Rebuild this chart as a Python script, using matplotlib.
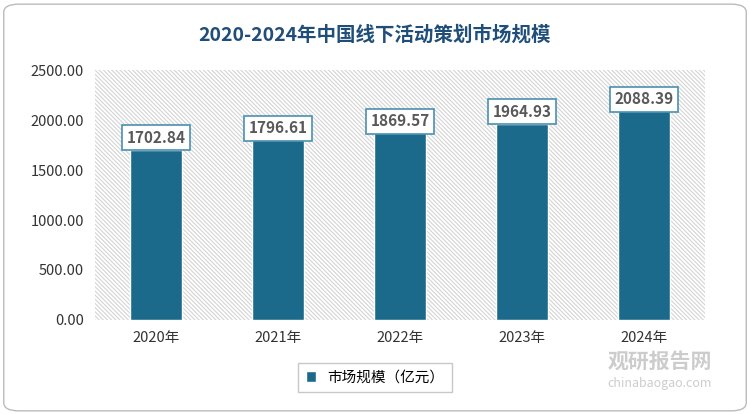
import matplotlib.pyplot as plt
from matplotlib.patches import FancyBboxPatch
from matplotlib import font_manager
import numpy as np

names = [f.name for f in font_manager.fontManager.ttflist if 'CJK' in f.name]
plt.rcParams['font.family'] = (names[:1] if names else []) + ['Noto Sans CJK SC', 'DejaVu Sans']
plt.rcParams['hatch.color'] = '#d4d4d4'
plt.rcParams['hatch.linewidth'] = 0.8

years = ['2020年', '2021年', '2022年', '2023年', '2024年']
values = [1702.84, 1796.61, 1869.57, 1964.93, 2088.39]
yticks = [0, 500, 1000, 1500, 2000, 2500]

bar_color = '#1b6a8c'

fig = plt.figure(figsize=(7.5, 4.15), dpi=100)
border = FancyBboxPatch((0.005, 0.01), 0.99, 0.98, boxstyle='round,pad=0,rounding_size=0.02',
                        transform=fig.transFigure, fc='white', ec='#bbbbbb', lw=1, zorder=-5)
fig.patches.append(border)
ax = fig.add_axes([0.127, 0.229, 0.813, 0.602])
ax.patch.set_alpha(0)

# 斜线背景
ax.add_patch(plt.Rectangle((0, 0), 1, 1, transform=ax.transAxes, fc='white',
                           ec='#d4d4d4', hatch='\\' * 8, lw=0, zorder=0))

x = np.arange(len(years))
bars = ax.bar(x, values, width=0.43, color=bar_color, edgecolor='white', lw=1, zorder=2)
for xi, v in zip(x, values):
    ax.text(xi, v + 120, '%.2f' % v, ha='center', va='center', fontsize=11, fontweight='bold',
            color='#595959', zorder=3,
            bbox=dict(boxstyle='square,pad=0.3', fc='white', ec='#4a90b0', lw=1.2))

ax.set_xlim(-0.5, len(years) - 0.5)
ax.set_ylim(0, 2500)
ax.set_yticks(yticks)
ax.set_yticklabels(['%.2f' % t for t in yticks], fontsize=10.5, color='#333333')
ax.set_xticks(x)
ax.set_xticklabels(years, fontsize=10.5, color='#333333')
ax.tick_params(length=0, pad=8)
for s in ax.spines.values():
    s.set_visible(False)

fig.text(0.5, 0.915, '2020-2024年中国线下活动策划市场规模', ha='center', va='center',
         fontsize=14, fontweight='bold', color='#1f4e79')

leg = fig.legend([bars], ['市场规模（亿元）'], loc='center', bbox_to_anchor=(0.5, 0.09),
                 frameon=True, fontsize=10.5, handlelength=0.7, handleheight=0.7,
                 borderpad=0.5, fancybox=False)
leg.get_frame().set_edgecolor('#bbbbbb')

fig.text(0.88, 0.13, '观研报告网', ha='center', va='center', fontsize=15, fontweight='bold',
         color='#c0c0c0', alpha=0.8)
fig.text(0.88, 0.075, 'chinabaogao.com', ha='center', va='center', fontsize=9,
         color='#c0c0c0', alpha=0.8)

plt.savefig('out.png', dpi=100)
